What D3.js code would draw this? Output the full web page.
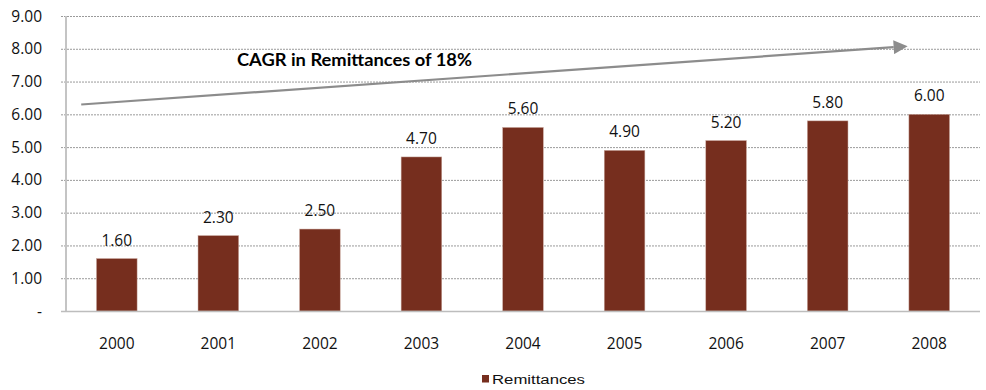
<!DOCTYPE html>
<html><head><meta charset="utf-8">
<script src="https://cdn.jsdelivr.net/npm/d3@7"></script>
<style>body{margin:0;background:#fff}svg{display:block}</style>
</head><body>
<svg id="c" width="986" height="390"></svg>
<script>
const categories = ["2000","2001","2002","2003","2004","2005","2006","2007","2008"];
const remittances = [1.60,2.30,2.50,4.70,5.60,4.90,5.20,5.80,6.00];
const yTicks = [0,1,2,3,4,5,6,7,8,9];
const seriesName = "Remittances";
const annotation = "CAGR in Remittances of 18%";
const arrowFrom = [ -0.35, 6.3 ];   // [category index, value]
const arrowTo = [ 7.65, 8.05 ];

const svg = d3.select("#c");
const mLeft = 66, mRight = 980, mTop = 16, mBottom = 311;
const x = d3.scaleBand().domain(categories).range([mLeft, mRight]).paddingInner(0.6).paddingOuter(0.3);
const y = d3.scaleLinear().domain([0, 9]).range([mBottom, mTop]);
const xi = d3.scaleLinear().domain([0, categories.length-1]).range([x(categories[0])+x.bandwidth()/2, x(categories[categories.length-1])+x.bandwidth()/2]);

const font = "'Open Sans', sans-serif";

// gridlines
svg.append("g").selectAll("line").data(yTicks.filter(d=>d>0)).join("line")
  .attr("x1", mLeft-5).attr("x2", mRight).attr("y1", d=>y(d)+0.5).attr("y2", d=>y(d)+0.5)
  .attr("stroke", "#9a9a9a").attr("stroke-width", 1).attr("stroke-dasharray", "2,1");

// y labels
svg.append("g").selectAll("text").data(yTicks).join("text")
  .attr("x", 42).attr("y", d=>y(d)+5.5).attr("text-anchor","end")
  .attr("font-family", font).attr("font-size", 15.5).attr("fill","#111")
  .text(d=> d===0 ? "-" : d.toFixed(2));

// bars
svg.append("g").selectAll("rect").data(remittances).join("rect")
  .attr("x", (d,i)=>x(categories[i])).attr("width", x.bandwidth())
  .attr("y", d=>y(d)).attr("height", d=>y(0)-y(d))
  .attr("fill", "#762e1e").attr("stroke","#c9a89e").attr("stroke-width",0.5);

// axes lines
svg.append("line").attr("x1", mLeft).attr("x2", mLeft).attr("y1", mTop).attr("y2", mBottom)
  .attr("stroke", "#c4c4c4").attr("stroke-width", 2);
svg.append("line").attr("x1", mLeft-5).attr("x2", mRight).attr("y1", mBottom+0.5).attr("y2", mBottom+0.5)
  .attr("stroke", "#bdbdbd").attr("stroke-width", 1.5);

// value labels
svg.append("g").selectAll("text").data(remittances).join("text")
  .attr("x", (d,i)=>x(categories[i])+x.bandwidth()/2).attr("y", d=>y(d)-13)
  .attr("text-anchor","middle").attr("font-family", font).attr("font-size", 15.5).attr("fill","#111")
  .text(d=>d.toFixed(2));

// x labels
svg.append("g").selectAll("text").data(categories).join("text")
  .attr("x", d=>x(d)+x.bandwidth()/2).attr("y", 349)
  .attr("text-anchor","middle").attr("font-family", font).attr("font-size", 15.5).attr("fill","#111")
  .text(d=>d);

// arrow
const defs = svg.append("defs");
defs.append("marker").attr("id","ah").attr("viewBox","0 0 10 10").attr("refX",0).attr("refY",5)
  .attr("markerWidth",16).attr("markerHeight",14).attr("markerUnits","userSpaceOnUse").attr("orient","auto")
  .append("path").attr("d","M0,0 L10,5 L0,10 Z").attr("fill","#8c8c8c");
const x1 = xi(arrowFrom[0]) , y1 = y(arrowFrom[1]);
const x2 = xi(arrowTo[0]), y2 = y(arrowTo[1]);
svg.append("line").attr("x1", x1).attr("y1", y1).attr("x2", x2).attr("y2", y2)
  .attr("stroke","#8c8c8c").attr("stroke-width",2.2).attr("marker-end","url(#ah)");

svg.append("text").attr("x", 237).attr("y", 66)
  .attr("font-family", "Lato, sans-serif").attr("font-weight","bold").attr("font-size", 16.5).attr("fill","#000")
  .attr("textLength", 235).attr("lengthAdjust","spacingAndGlyphs")
  .text(annotation);

// legend
const lg = svg.append("g");
lg.append("rect").attr("x", 482).attr("y", 375).attr("width", 7).attr("height", 7.5).attr("fill","#762e1e");
lg.append("text").attr("x", 492).attr("y", 384).attr("font-family","'Liberation Sans', Arial, sans-serif")
  .attr("font-size", 12.5).attr("fill","#111")
  .attr("textLength", 93).attr("lengthAdjust","spacingAndGlyphs").text(seriesName);
</script>
</body></html>
